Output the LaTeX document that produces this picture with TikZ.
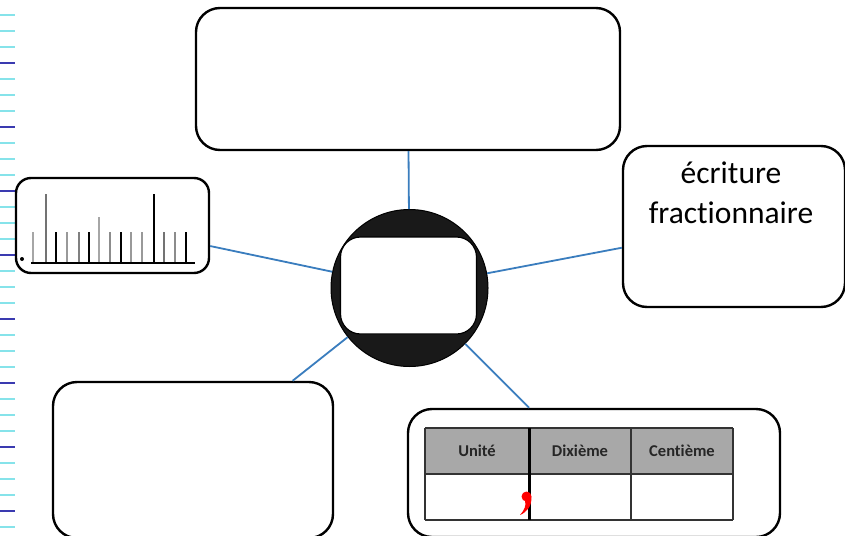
\documentclass[tikz,border=0pt]{standalone}
\usepackage{fontspec}
\setmainfont{Carlito}[Ligatures=NoCommon]
\begin{document}
\begin{tikzpicture}[x=1pt,y=-1pt,
  box/.style={draw=black,line width=2.4pt,rounded corners=24pt,fill=white,inner sep=0pt},
  link/.style={draw=linkblue,line width=1.8pt},
  hdr/.style={font=\bfseries\fontsize{16.5}{18}\selectfont,text=black!85},
  tick/.style={line width=1.8pt},
]
\definecolor{linkblue}{HTML}{3A7DBE}
\definecolor{paperc}{HTML}{86E3EA}
\definecolor{paperb}{HTML}{3A3AB0}
\definecolor{hdrgray}{HTML}{A8A8A8}
\clip (0,0) rectangle (845,535);
\fill[white] (0,0) rectangle (845,535);
% lined paper at the left edge
\foreach \k in {0,...,33}{
  \pgfmathtruncatemacro{\m}{mod(\k,4)}
  \ifnum\m=0
    \draw[paperb,line width=1.3pt] (0,{-1+16*\k}) -- (15,{-1+16*\k});
  \else
    \draw[paperc,line width=1.3pt] (0,{-1+16*\k}) -- (15,{-1+16*\k});
  \fi
}
% boxes
\node[box,minimum width=424pt,minimum height=142pt] (top) at (408,79) {};
\node[box,rounded corners=15pt,minimum width=193pt,minimum height=95pt] (ruler) at (112.5,225.5) {};
\node[box,minimum width=222pt,minimum height=161pt] (frac) at (734,226.5) {};
\node[box,minimum width=280pt,minimum height=156pt] (bl) at (193,460) {};
\node[box,minimum width=372pt,minimum height=128pt] (br) at (594,473) {};
% center circle
\node[circle,fill=black!90,draw=black,line width=1pt,minimum size=157pt,inner sep=0pt] (c) at (409.5,288) {};
\node[draw=black,line width=1.2pt,fill=white,rounded corners=20pt,minimum width=136pt,minimum height=97pt,inner sep=0pt] (ci) at (408.5,285.5) {};
% connectors
\draw[link] (top) -- (c);
\draw[link] (ruler) -- (c);
\draw[link] (frac) -- (c);
\draw[link] (bl) -- (c);
\draw[link] (br) -- (c);
% text of right box
\node[font=\fontsize{31.5}{40}\selectfont,align=center,anchor=north] (fractxt) at (731,158) {écriture\\fractionnaire};
% ruler
\draw[line width=2pt] (31,262.5) -- (195,262.5);
\fill (22,259) circle (2pt);
\foreach \xx/\tp/\col in {33.3/231.7/black!35,46/194.3/black!55,56/231.7/black,66.7/231.7/black!40,78.7/231.7/black!50,88.7/231.7/black,98.7/216.7/black!35,110/231.7/black!45,121.3/231.7/black,131.3/231.7/black!40,142/231.7/black!40,154/194.3/black,164/231.7/black!55,174.7/231.7/black!45,186/231.7/black}{
  \draw[tick,\col] (\xx,262) -- (\xx,\tp);
}
% table
\fill[hdrgray] (425,428) rectangle (733,474);
\draw[black!80,line width=1.3pt] (425,428) -- (733,428) (425,474) -- (733,474) (425,520) -- (733,520)
  (425,428) -- (425,520) (631,428) -- (631,520) (733,428) -- (733,520);
\draw[black,line width=3pt] (529,428) -- (529,520);
\node[hdr] (u) at (477,451) {Unité};
\node[hdr] (d) at (580,451) {Dixième};
\node[hdr] (ce) at (682,451) {Centième};
% red comma
\fill[red] (526.5,496.5) circle (5pt);
\fill[red] (531.3,497) .. controls (532,506) and (527,512) .. (520,515) .. controls (524.5,510) and (526.5,505) .. (525,501) -- cycle;
\end{tikzpicture}
\end{document}
